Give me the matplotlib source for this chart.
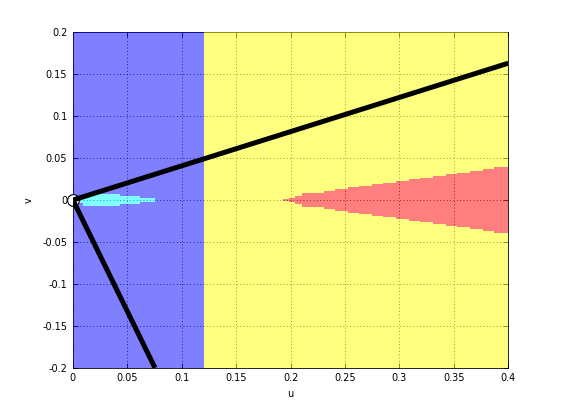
import numpy as np
import matplotlib
matplotlib.use("Agg")
import matplotlib.pyplot as plt

# axis ranges and ticks
u_lim = [0.0, 0.4]
v_lim = [-0.2, 0.2]
u_ticks = [0, 0.05, 0.1, 0.15, 0.2, 0.25, 0.3, 0.35, 0.4]
u_tick_labels = ["0", "0.05", "0.1", "0.15", "0.2", "0.25", "0.3", "0.35", "0.4"]
v_ticks = [-0.2, -0.15, -0.1, -0.05, 0, 0.05, 0.1, 0.15, 0.2]
v_tick_labels = ["-0.2", "-0.15", "-0.1", "-0.05", "0", "0.05", "0.1", "0.15", "0.2"]

# switching boundary between blue and yellow regions
switch_u = 0.12

# cyan lens near the origin (step edges and half heights)
cyan_u = [0.0046, 0.0095, 0.0432, 0.0616, 0.0754]
cyan_h = [0.004, 0.0071, 0.005, 0.0026]

# red wedge (step edges and half heights)
red_u = [0.1934, 0.1986, 0.2041, 0.2106, 0.2207, 0.2308, 0.2409, 0.2529,
         0.2630, 0.2749, 0.2851, 0.2970, 0.3090, 0.3191, 0.3310, 0.3430,
         0.3531, 0.3651, 0.3770, 0.3871, 0.4]
red_h = [0.001, 0.0028, 0.0052, 0.0079, 0.0087, 0.0111, 0.0135, 0.0151,
         0.0171, 0.0194, 0.0206, 0.0230, 0.0254, 0.0266, 0.0290, 0.0313,
         0.0325, 0.0349, 0.0373, 0.0397]

# two rays from the origin
ray_up_u = [0.0, 0.4]
ray_up_v = [0.0, 0.163]
ray_down_u = [0.0, 0.0754]
ray_down_v = [0.0, -0.2]


def main():
    fig = plt.figure(figsize=(5.61, 4.12), dpi=100)
    ax = fig.add_axes([0.130, 0.107, 0.776, 0.815])
    ax.set_axisbelow(True)

    fill_kw = dict(step="post", linewidth=0, alpha=0.5, zorder=3,
                   antialiased=False)

    # blue region with cyan hole
    blue_u = np.array([u_lim[0]] + cyan_u + [switch_u])
    blue_h = np.array([0.0] + cyan_h + [0.0, 0.0])
    ax.fill_between(blue_u, blue_h, v_lim[1], color="blue", **fill_kw)
    ax.fill_between(blue_u, v_lim[0], -blue_h, color="blue", **fill_kw)
    cu = np.array(cyan_u)
    ch = np.append(cyan_h, cyan_h[-1])
    ax.fill_between(cu, -ch, ch, color="cyan", **fill_kw)

    # yellow region with red wedge
    yel_u = np.array([switch_u] + red_u)
    yel_h = np.array([0.0] + red_h + [red_h[-1]])
    ax.fill_between(yel_u, yel_h, v_lim[1], color="yellow", **fill_kw)
    ax.fill_between(yel_u, v_lim[0], -yel_h, color="yellow", **fill_kw)
    ru = np.array(red_u)
    rh = np.append(red_h, red_h[-1])
    ax.fill_between(ru, -rh, rh, color="red", **fill_kw)

    # rays and origin marker
    ax.plot(ray_up_u, ray_up_v, color="black", linewidth=3.6,
            solid_capstyle="butt", zorder=5)
    ax.plot(ray_down_u, ray_down_v, color="black", linewidth=3.6,
            solid_capstyle="butt", zorder=5)
    ax.plot([0], [0], marker="o", markersize=8.5, markerfacecolor="white",
            markeredgecolor="black", markeredgewidth=0.8, clip_on=False,
            zorder=4)

    ax.set_xlim(u_lim)
    ax.set_ylim(v_lim)
    ax.set_xticks(u_ticks)
    ax.set_xticklabels(u_tick_labels)
    ax.set_yticks(v_ticks)
    ax.set_yticklabels(v_tick_labels)
    ax.tick_params(direction="in", top=True, right=True, length=3.5,
                   width=0.6, labelsize=7, pad=4)
    ax.grid(True, color="black", linestyle=(0, (1, 3)), linewidth=0.6)
    for s in ax.spines.values():
        s.set_linewidth(0.6)
    ax.set_xlabel("u", fontsize=7, labelpad=4)
    ax.set_ylabel("v", fontsize=7, rotation=90, labelpad=6)

    fig.savefig("out.png", dpi=100)


if __name__ == "__main__":
    main()
